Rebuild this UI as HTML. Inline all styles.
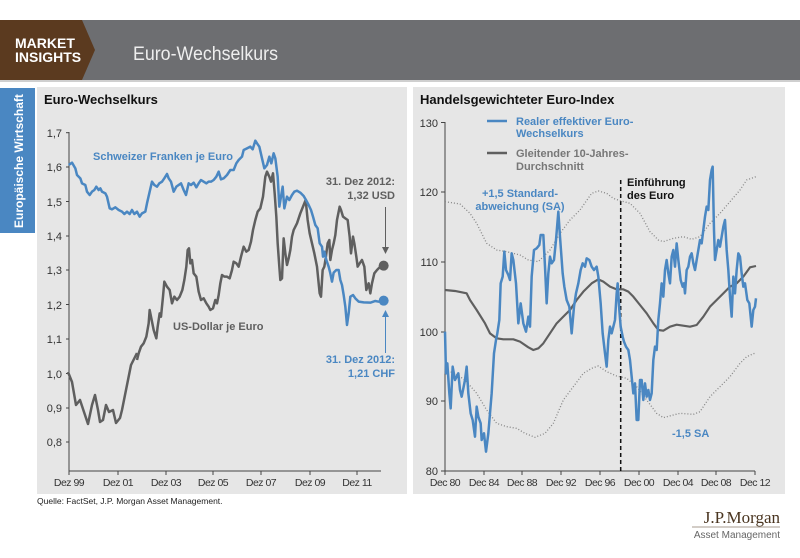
<!DOCTYPE html>
<html><head><meta charset="utf-8"><style>
body{margin:0;width:800px;height:553px;background:#fff;overflow:hidden;font-family:"Liberation Sans",sans-serif}
</style></head><body>
<svg width="800" height="553" viewBox="0 0 800 553" xmlns="http://www.w3.org/2000/svg" font-family="Liberation Sans, sans-serif">
<rect x="0" y="20" width="800" height="60" fill="#6d6e71"/>
<polygon points="0,20 82,20 95,50 82,80 0,80" fill="#5b3a1f"/>
<text x="15" y="48" fill="#fff" font-size="14" font-weight="bold">MARKET</text>
<text x="15" y="62" fill="#fff" font-size="14" font-weight="bold">INSIGHTS</text>
<text x="133" y="60" fill="#eee" font-size="19" textLength="145" lengthAdjust="spacingAndGlyphs">Euro-Wechselkurs</text>
<rect x="0" y="80" width="800" height="2" fill="#cfcfcf"/>
<rect x="0" y="88" width="35" height="145" fill="#4a87c2"/>
<text transform="translate(23,228) rotate(-90)" fill="#fff" font-size="12" font-weight="bold">Europäische Wirtschaft</text>
<rect x="37" y="87" width="370" height="407" fill="#e6e6e6"/>
<rect x="413" y="87" width="372" height="407" fill="#e6e6e6"/>
<text x="44" y="104" font-size="13" font-weight="bold" fill="#111">Euro-Wechselkurs</text>
<text x="420" y="104" font-size="13" font-weight="bold" fill="#111">Handelsgewichteter Euro-Index</text>

<g stroke="#444" stroke-width="1" fill="none">
<line x1="69" y1="132" x2="69" y2="471"/><line x1="69" y1="471" x2="381" y2="471"/>
<line x1="66" y1="132.7" x2="69" y2="132.7"/><line x1="66" y1="167" x2="69" y2="167"/><line x1="66" y1="201.5" x2="69" y2="201.5"/><line x1="66" y1="236" x2="69" y2="236"/><line x1="66" y1="270" x2="69" y2="270"/><line x1="66" y1="304.5" x2="69" y2="304.5"/><line x1="66" y1="339" x2="69" y2="339"/><line x1="66" y1="373.5" x2="69" y2="373.5"/><line x1="66" y1="408" x2="69" y2="408"/><line x1="66" y1="442" x2="69" y2="442"/>
<line x1="69" y1="471" x2="69" y2="475"/><line x1="118" y1="471" x2="118" y2="475"/><line x1="166" y1="471" x2="166" y2="475"/><line x1="213" y1="471" x2="213" y2="475"/><line x1="261" y1="471" x2="261" y2="475"/><line x1="310" y1="471" x2="310" y2="475"/><line x1="357" y1="471" x2="357" y2="475"/>
</g>
<g font-size="11" fill="#333" text-anchor="end">
<text x="62" y="137">1,7</text><text x="62" y="171">1,6</text><text x="62" y="206">1,5</text><text x="62" y="240">1,4</text><text x="62" y="274">1,3</text><text x="62" y="309">1,2</text><text x="62" y="343">1,1</text><text x="62" y="378">1,0</text><text x="62" y="412">0,9</text><text x="62" y="446">0,8</text>
</g>
<g font-size="10.5" fill="#333" text-anchor="middle" letter-spacing="-0.5">
<text x="69" y="486">Dez 99</text><text x="118" y="486">Dez 01</text><text x="166" y="486">Dez 03</text><text x="213" y="486">Dez 05</text><text x="261" y="486">Dez 07</text><text x="310" y="486">Dez 09</text><text x="357" y="486">Dez 11</text>
</g>
<polyline fill="none" stroke="#5f5f5f" stroke-width="2.5" stroke-linejoin="round" points="68,372 72,382 76,405 80,400 84,412 88,424 92,405 95,395 98,410 100,422 103,420 106,405 109,412 113,410 116,423 120,418 122,410 125,395 128,380 131,365 137,353"/>
<g transform="translate(37,110) scale(0.33333)">
<polyline fill="none" stroke="#5f5f5f" stroke-width="7.5" stroke-linejoin="round" points="300,750 305,730 312,710 320,700 328,680 335,640 338,600 342,620 350,660 358,685 362,650 368,610 372,620 378,560 382,515 390,530 398,540 405,580 412,560 420,570 428,560 436,540 442,510 448,470 452,420 456,415 460,460 465,450 470,490 478,500 485,545 492,570 500,565 508,580 515,590 520,600 528,595 535,570 540,580 545,555 550,520 555,495 562,500 570,500 578,505 585,480 590,455 598,460 605,470 612,440 620,410 628,425 635,420 642,395 648,360 655,330 662,305 670,295 678,260 685,200 690,185 697,200 702,215 708,190 713,250 718,320 722,400 727,470 730,510 735,505 740,385 745,430 750,465 755,445 760,420 765,380 770,360 780,340 790,310 800,285 806,270 812,330 818,370 825,400 832,430 840,470 848,550 852,560 857,480 862,470 866,445 872,400 877,390 880,450 885,420 890,400 895,375 900,330 908,290 912,300 918,320 925,325 932,330 938,380 942,430 948,380 952,400 958,440 962,470 968,460 975,450 982,470 988,540 995,520 1000,550 1005,520 1012,490 1020,480 1030,470 1040,467"/>
<polyline fill="none" stroke="#4a87c2" stroke-width="7.5" stroke-linejoin="round" points="95,165 105,158 115,175 120,195 130,205 135,220 145,225 150,245 158,255 165,245 172,240 178,230 185,240 190,235 195,245 205,250 210,260 218,295 225,298 235,292 245,300 255,305 262,312 270,305 278,312 285,300 292,312 300,305 308,320 315,310 325,305 330,280 338,245 345,215 352,225 360,230 367,220 375,215 382,205 390,192 395,205 402,215 410,245 418,230 425,225 432,220 440,240 447,255 455,220 462,225 470,218 478,232 485,220 492,210 500,215 508,220 515,215 522,215 530,210 538,200 545,185 552,208 560,205 570,195 580,180 590,180 598,160 605,150 615,140 620,120 630,115 640,110 647,118 655,92 660,100 667,110 675,145 682,175 690,165 697,140 703,160 710,130 715,145 722,200 727,290 732,260 737,230 742,295 750,260 757,270 765,255 772,245 780,242 790,248 800,258 807,270 815,285 822,300 828,320 835,345 842,355 848,400 855,410 858,440 862,425 868,450 875,470 880,490 885,515 890,488 898,480 905,480 910,510 915,525 920,555 925,590 930,645 935,610 940,560 948,555 955,565 965,575 980,577 1000,578 1015,573 1025,575 1040,572"/>
<circle cx="1040" cy="467" r="15" fill="#5f5f5f"/>
<circle cx="1040" cy="572" r="15" fill="#4a87c2"/>
</g>
<line x1="385.5" y1="207" x2="385.5" y2="248" stroke="#5f5f5f" stroke-width="1"/>
<polygon points="382,247 389,247 385.5,254" fill="#5f5f5f"/>
<line x1="385.5" y1="316" x2="385.5" y2="353" stroke="#4a87c2" stroke-width="1"/>
<polygon points="382,317 389,317 385.5,310" fill="#4a87c2"/>
<g font-size="11" font-weight="bold" text-anchor="end">
<text x="395" y="185" fill="#5f5f5f">31. Dez 2012:</text><text x="395" y="199" fill="#5f5f5f">1,32 USD</text>
<text x="395" y="363" fill="#4a87c2">31. Dez 2012:</text><text x="395" y="377" fill="#4a87c2">1,21 CHF</text>
</g>
<text x="93" y="160" font-size="11" font-weight="bold" fill="#4a87c2">Schweizer Franken je Euro</text>
<text x="173" y="330" font-size="11" font-weight="bold" fill="#5f5f5f">US-Dollar je Euro</text>

<g stroke="#444" stroke-width="1" fill="none">
<line x1="445" y1="122" x2="445" y2="471"/><line x1="445" y1="471" x2="755" y2="471"/>
<line x1="441" y1="122.5" x2="445" y2="122.5"/><line x1="441" y1="192" x2="445" y2="192"/><line x1="441" y1="262" x2="445" y2="262"/><line x1="441" y1="332" x2="445" y2="332"/><line x1="441" y1="401" x2="445" y2="401"/><line x1="441" y1="471" x2="445" y2="471"/>
<line x1="445" y1="471" x2="445" y2="475"/><line x1="484" y1="471" x2="484" y2="475"/><line x1="522" y1="471" x2="522" y2="475"/><line x1="561" y1="471" x2="561" y2="475"/><line x1="600" y1="471" x2="600" y2="475"/><line x1="639" y1="471" x2="639" y2="475"/><line x1="678" y1="471" x2="678" y2="475"/><line x1="716" y1="471" x2="716" y2="475"/><line x1="755" y1="471" x2="755" y2="475"/>
</g>
<g font-size="11" fill="#333" text-anchor="end">
<text x="438" y="127">130</text><text x="438" y="196">120</text><text x="438" y="266">110</text><text x="438" y="336">100</text><text x="438" y="405">90</text><text x="438" y="475">80</text>
</g>
<g font-size="10.5" fill="#333" text-anchor="middle" letter-spacing="-0.5">
<text x="445" y="486">Dec 80</text><text x="484" y="486">Dec 84</text><text x="522" y="486">Dec 88</text><text x="561" y="486">Dec 92</text><text x="600" y="486">Dec 96</text><text x="639" y="486">Dec 00</text><text x="678" y="486">Dec 04</text><text x="716" y="486">Dec 08</text><text x="755" y="486">Dec 12</text>
</g>
<line x1="620.7" y1="180" x2="620.7" y2="471" stroke="#111" stroke-width="1.5" stroke-dasharray="4,3"/>
<g transform="translate(410,160) scale(0.33333)">
<polyline fill="none" stroke="#888" stroke-width="4" stroke-dasharray="3,6" points="105,125 150,132 180,160 200,190 230,250 260,270 290,275 330,285 355,300 385,305 420,270 450,220 480,180 510,150 545,100 565,93 590,100 610,115 630,122 660,130 690,160 720,215 745,240 760,245 790,235 820,230 845,238 870,230 900,190 930,160 960,125 990,90 1010,60 1038,50"/>
<polyline fill="none" stroke="#888" stroke-width="4" stroke-dasharray="3,6" points="105,630 135,640 165,660 200,700 230,750 260,790 290,800 320,805 345,820 375,832 405,820 430,790 460,720 490,680 520,640 545,625 565,618 590,635 620,648 650,655 680,680 710,720 740,760 760,773 790,765 810,760 850,763 870,755 900,710 930,680 960,650 990,610 1010,590 1038,578"/>
<polyline fill="none" stroke="#5f5f5f" stroke-width="6.5" stroke-linejoin="round" points="105,390 135,393 170,400 180,420 200,450 225,490 240,520 260,535 280,538 310,538 330,545 355,562 370,570 385,565 400,550 420,520 440,490 460,470 480,450 500,420 520,395 545,370 565,358 580,365 600,380 620,388 640,388 655,395 670,410 690,435 710,460 730,490 745,510 760,512 780,500 800,494 820,497 840,500 860,495 880,470 900,440 920,420 940,400 960,380 980,370 1000,350 1020,322 1038,318"/>
<polyline fill="none" stroke="#4a87c2" stroke-width="7.5" stroke-linejoin="round" points="105,515 108,640 112,610 118,700 122,745 128,620 135,660 145,640 150,690 155,710 165,660 170,620 175,700 182,760 188,780 195,830 200,740 205,770 212,790 215,840 222,820 228,875 235,820 240,760 245,700 252,580 258,540 262,520 268,480 272,370 278,350 283,275 288,330 295,345 300,360 305,280 310,300 318,370 325,490 332,430 340,490 348,515 355,470 360,500 365,350 372,270 380,265 388,255 392,225 400,225 405,320 410,430 415,340 420,290 425,310 432,300 438,240 445,155 450,230 458,340 463,380 470,420 478,440 485,520 492,440 498,400 505,370 512,330 518,310 525,320 530,295 538,300 545,320 552,330 560,320 565,350 572,430 578,520 585,580 590,620 595,540 600,500 605,520 610,500 615,480 620,400 623,370 628,450 632,500 638,530 642,545 648,560 655,570 660,600 665,650 670,700 675,670 680,780 685,780 690,660 695,660 700,720 705,670 710,710 715,690 720,720 725,700 730,600 735,560 740,570 745,480 750,430 755,370 760,410 765,330 770,300 775,340 780,370 785,290 790,270 795,320 800,250 805,300 812,360 818,380 822,370 825,400 830,330 835,320 840,290 845,280 850,310 855,330 860,300 865,270 870,240 875,250 880,210 885,170 890,140 895,150 900,60 905,30 908,20 912,210 915,300 920,270 925,240 930,260 935,230 940,200 945,180 950,270 955,330 960,410 965,470 970,350 975,400 980,330 985,280 990,290 995,340 1000,380 1005,370 1012,420 1018,430 1022,470 1025,500 1030,450 1035,440 1038,415"/>
</g>
<line x1="487" y1="121" x2="507" y2="121" stroke="#4a87c2" stroke-width="2.5"/>
<line x1="487" y1="153" x2="507" y2="153" stroke="#5f5f5f" stroke-width="2.5"/>
<g font-size="11" font-weight="bold">
<text x="516" y="125" fill="#4a87c2">Realer effektiver Euro-</text><text x="516" y="137" fill="#4a87c2">Wechselkurs</text>
<text x="516" y="157" fill="#777">Gleitender 10-Jahres-</text><text x="516" y="170" fill="#777">Durchschnitt</text>
<text x="520" y="197" fill="#4a87c2" text-anchor="middle">+1,5 Standard-</text><text x="520" y="210" fill="#4a87c2" text-anchor="middle">abweichung (SA)</text>
<text x="627" y="186" fill="#111">Einführung</text><text x="627" y="199" fill="#111">des Euro</text>
<text x="672" y="437" fill="#4a87c2">-1,5 SA</text>
</g>
<text x="37" y="504" font-size="8.5" fill="#222">Quelle: FactSet, J.P. Morgan Asset Management.</text>
<text x="780" y="523" font-size="17" font-family="Liberation Serif, serif" fill="#4a3520" text-anchor="end">J.P.Morgan</text>
<line x1="692" y1="527" x2="780" y2="527" stroke="#8a7a6a" stroke-width="0.7"/>
<text x="780" y="538" font-size="10" fill="#666" text-anchor="end">Asset Management</text>
</svg>
</body></html>
